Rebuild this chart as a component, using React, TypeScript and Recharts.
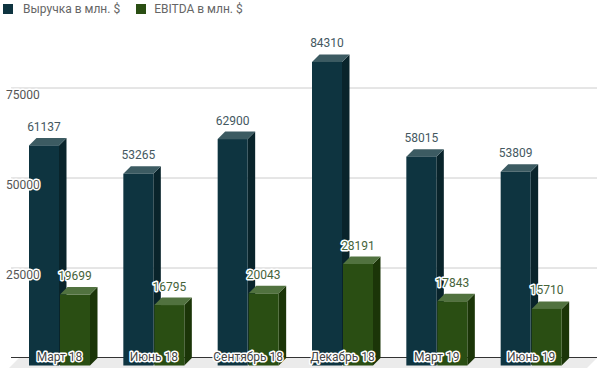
import { Bar, BarChart, CartesianGrid, LabelList, XAxis, YAxis } from "recharts"

const categories = ["Март 18", "Июнь 18", "Сентябрь 18", "Декабрь 18", "Март 19", "Июнь 19"]
const revenue = [61137, 53265, 62900, 84310, 58015, 53809]
const ebitda = [19699, 16795, 20043, 28191, 17843, 15710]
const yTicks = [25000, 50000, 75000]
const seriesNames = ["Выручка в млн. $", "EBITDA в млн. $"]

const data = categories.map((name, i) => ({ name, revenue: revenue[i], ebitda: ebitda[i] }))

const FONT = "Roboto, 'Noto Sans', sans-serif"
const DEPTH = 7.5

const palette = {
    revenue: { front: "#0e3440", top: "#3c5b62", side: "#09242b", label: "#44585f" },
    ebitda: { front: "#2a4e13", top: "#51723f", side: "#1b3508", label: "#46633a" },
}

const halo = {
    stroke: "#fff",
    strokeWidth: 3,
    strokeLinejoin: "round" as const,
    paintOrder: "stroke" as const,
}

function make3DShape(c: { front: string; top: string; side: string }) {
    return (props: any) => {
        const { x, y, width, height } = props
        const base = y + height
        const d = DEPTH
        return (
            <g>
                <polygon
                    points={`${x + width},${y + d} ${x + width + d},${y} ${x + width + d},${base} ${x + width},${base + d}`}
                    fill={c.side}
                />
                <polygon
                    points={`${x},${y + d} ${x + width},${y + d} ${x + width + d},${y} ${x + d},${y}`}
                    fill={c.top}
                />
                <rect x={x} y={y + d} width={width} height={height} fill={c.front} />
            </g>
        )
    }
}

const valueLabel = (color: string) => (props: any) => {
    const { x, y, width, value } = props
    return (
        <text
            x={x + width / 2}
            y={y - 11}
            textAnchor="middle"
            dominantBaseline="central"
            fontSize={12}
            fontFamily={FONT}
            fill={color}
            {...halo}
        >
            {value}
        </text>
    )
}

// category names drawn over the bars, centred on the pair
const categoryLabel = (props: any) => {
    const { x, y, height, index } = props
    return (
        <text
            x={x - 0.5}
            y={y + height - 1}
            textAnchor="middle"
            dominantBaseline="central"
            fontSize={12}
            fontFamily={FONT}
            fill="#444"
            {...halo}
        >
            {categories[index]}
        </text>
    )
}

const YTick = (props: any) => {
    const { y, payload } = props
    return (
        <text
            x={6}
            y={y + 7}
            textAnchor="start"
            dominantBaseline="central"
            fontSize={12}
            fontFamily={FONT}
            fill="#555"
            {...halo}
        >
            {payload.value}
        </text>
    )
}

export default function App() {
    return (
        <div style={{ position: "absolute", left: 0, top: 0, width: 597, height: 368, background: "#fff", fontFamily: FONT }}>
            {/* floor and base line */}
            <svg width={597} height={368} style={{ position: "absolute", left: 0, top: 0 }}>
                <polygon points="19,358 597,358 587,368 9,368" fill="#ebebeb" />
                <line x1={11} y1={357.5} x2={597} y2={357.5} stroke="#333" strokeWidth={1} />
            </svg>

            <div style={{ position: "absolute", left: 3, top: 2, display: "flex", alignItems: "center", fontSize: 12, color: "#666" }}>
                <span style={{ width: 10, height: 10, background: palette.revenue.front, display: "inline-block" }} />
                <span style={{ marginLeft: 10 }}>{seriesNames[0]}</span>
                <span style={{ width: 10, height: 10, background: palette.ebitda.front, display: "inline-block", marginLeft: 16 }} />
                <span style={{ marginLeft: 8 }}>{seriesNames[1]}</span>
            </div>

            <div style={{ position: "absolute", left: 0, top: 0 }}>
                <BarChart
                    width={597}
                    height={368}
                    data={data}
                    margin={{ top: 43, right: 0, left: 10, bottom: 9 }}
                    barGap={1}
                >
                    <CartesianGrid vertical={false} stroke="#ccc" horizontalValues={yTicks} />
                    <XAxis
                        dataKey="name"
                        height={1}
                        padding={{ left: 1, right: 19 }}
                        axisLine={false}
                        tickLine={false}
                        tick={false}
                        interval={0}
                    />
                    <YAxis
                        width={1}
                        domain={[0, 87500]}
                        ticks={yTicks}
                        axisLine={false}
                        tickLine={false}
                        tick={<YTick />}
                    />
                    <Bar dataKey="revenue" barSize={30} shape={make3DShape(palette.revenue)} isAnimationActive={false}>
                        <LabelList dataKey="revenue" content={valueLabel(palette.revenue.label)} />
                    </Bar>
                    <Bar dataKey="ebitda" barSize={30} shape={make3DShape(palette.ebitda)} isAnimationActive={false}>
                        <LabelList dataKey="ebitda" content={valueLabel(palette.ebitda.label)} />
                        <LabelList dataKey="ebitda" content={categoryLabel} />
                    </Bar>
                </BarChart>
            </div>
        </div>
    )
}
